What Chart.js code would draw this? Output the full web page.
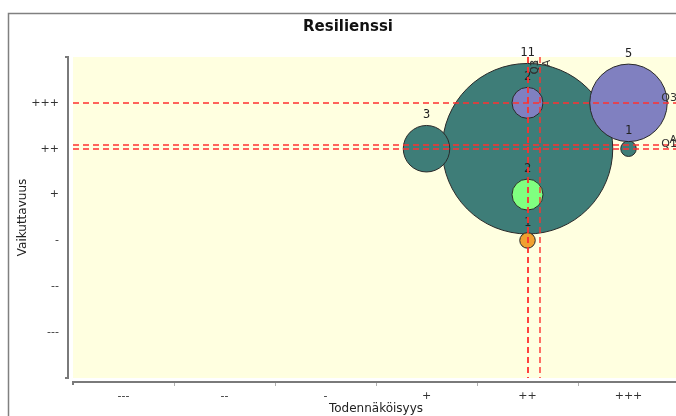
<!DOCTYPE html>
<html><head><meta charset="utf-8">
<script src="https://cdn.jsdelivr.net/npm/chart.js@4.4.1/dist/chart.umd.min.js"></script>
<style>
html,body{margin:0;padding:0;background:#fff;overflow:hidden;width:676px;height:416px;}
#wrap{position:absolute;left:0;top:0;width:696px;height:416px;}
</style></head><body>
<div id="wrap"><canvas id="c" width="696" height="416"></canvas></div>
<script>
// tasot molemmilla akseleilla
const levelLabels = ['---','--','-','+','++','+++'];

// kuplat: todennäköisyys (x), vaikuttavuus (y), riskien lukumäärä
const probX     = [5, 4, 6, 5, 6, 5, 5];
const impactY   = [5, 5, 5, 6, 6, 4, 3];
const counts    = [11, 3, 1, 2, 5, 2, 1];
const riskGroup = [0, 0, 0, 1, 1, 2, 3];

// kvartiili- ja keskiarvoviivat
const hLineNames  = ['Q3', 'A', 'Q1'];
const hLineValues = [6, 5.09, 5];
const vLineNames  = ['Q1', 'Q3', 'A'];
const vLineValues = [5, 5, 5.12];

const GROUP_COLORS = ['#3e7d78', '#8080c0', '#80ff80', '#f0a030'];
const R_PER_COUNT = 7.75;
const X_EDGE = 6.5;
const FONT = 'DejaVu Sans';

const points = probX.map((x,i)=>({x, y:impactY[i], r:counts[i]*R_PER_COUNT}));

const decor = {
  id:'decor',
  beforeDraw(chart){
    const {ctx, chartArea:a} = chart;
    ctx.save();
    ctx.fillStyle = '#fff';
    ctx.fillRect(0,0,chart.width,chart.height);
    ctx.strokeStyle = '#808080';
    ctx.lineWidth = 1.5;
    ctx.strokeRect(8.5, 13.5, 720, 430);
    ctx.fillStyle = '#ffffe0';
    ctx.fillRect(a.left, a.top, a.right-a.left, a.bottom-a.top);
    // akselit
    ctx.strokeStyle = '#7a7a7a';
    ctx.lineWidth = 2;
    ctx.beginPath();
    ctx.moveTo(65, a.top); ctx.lineTo(a.left-5, a.top); ctx.lineTo(a.left-5, a.bottom); ctx.lineTo(65, a.bottom);
    ctx.stroke();
    ctx.beginPath();
    ctx.moveTo(a.left, a.bottom+7); ctx.lineTo(a.left, a.bottom+4); ctx.lineTo(chart.width, a.bottom+4);
    ctx.stroke();
    const xs = chart.scales.x;
    ctx.strokeStyle = '#b0b0b0';
    ctx.lineWidth = 1;
    for(let i=1;i<=levelLabels.length;i++){
      const px = Math.round(xs.getPixelForValue(i+0.5))+0.5;
      ctx.beginPath(); ctx.moveTo(px, a.bottom+5); ctx.lineTo(px, a.bottom+8); ctx.stroke();
    }
    ctx.restore();
  },
  afterDatasetsDraw(chart){
    const {ctx, chartArea:a} = chart;
    const xs = chart.scales.x, ys = chart.scales.y;
    const meta = chart.getDatasetMeta(0);
    ctx.save();
    // lukumäärät kuplien yläpuolelle
    ctx.fillStyle = '#222';
    ctx.font = '12px "DejaVu Sans Mono"';
    ctx.textAlign = 'center';
    ctx.textBaseline = 'alphabetic';
    meta.data.forEach((el,i)=>{
      ctx.fillText(String(counts[i]), el.x, el.y - counts[i]*R_PER_COUNT - 7);
    });
    // katkoviivat
    ctx.beginPath();
    ctx.rect(a.left, a.top, a.right-a.left, a.bottom-a.top);
    ctx.clip();
    ctx.strokeStyle = '#ff3030';
    ctx.lineWidth = 1.4;
    ctx.setLineDash([6,4]);
    hLineValues.forEach(v=>{
      const py = Math.round(ys.getPixelForValue(v));
      ctx.beginPath(); ctx.moveTo(a.left, py); ctx.lineTo(a.right, py); ctx.stroke();
    });
    vLineValues.forEach(v=>{
      const px = Math.round(xs.getPixelForValue(v));
      ctx.beginPath(); ctx.moveTo(px, a.top); ctx.lineTo(px, a.bottom); ctx.stroke();
    });
    ctx.setLineDash([]);
    ctx.fillStyle = '#333';
    ctx.font = '11px ' + FONT;
    ctx.textAlign = 'right';
    ctx.textBaseline = 'alphabetic';
    const xr = xs.getPixelForValue(X_EDGE) - 2;
    hLineNames.forEach((n,i)=>{
      ctx.fillText(n, xr, ys.getPixelForValue(hLineValues[i]) - 2);
    });
    ctx.font = '10px ' + FONT;
    vLineNames.forEach((n,i)=>{
      ctx.save();
      ctx.translate(xs.getPixelForValue(vLineValues[i]) + 3, a.top + 3);
      ctx.rotate(-Math.PI/2);
      ctx.textBaseline = 'top';
      ctx.fillText(n, 0, 0);
      ctx.restore();
    });
    ctx.restore();
  }
};

new Chart(document.getElementById('c'), {
  type:'bubble',
  data:{datasets:[{
    data:points,
    backgroundColor:riskGroup.map(g=>GROUP_COLORS[g]),
    borderColor:'#2a2a2a',
    borderWidth:1,
    clip:false
  }]},
  options:{
    responsive:false, animation:false, devicePixelRatio:1,
    layout:{autoPadding:false, padding:{left:17,right:17,top:0,bottom:0}},
    plugins:{
      legend:{display:false}, tooltip:{enabled:false},
      title:{display:true, text:'Resilienssi', color:'#111',
        font:{family:FONT, size:15, weight:'bold', lineHeight:1.2}, padding:{top:18,bottom:21}}
    },
    scales:{
      x:{type:'linear', min:0.5, max:6.5,
        afterBuildTicks:s=>{ s.ticks = levelLabels.map((_,i)=>({value:i+1})); },
        afterFit:s=>{ s.height = 38; },
        grid:{display:false, drawTicks:false}, border:{display:false},
        ticks:{padding:12, color:'#333', font:{family:FONT, size:11}, maxRotation:0, autoSkip:false,
          callback:v=>levelLabels[v-1] || ''},
        title:{display:true, text:'Todennäköisyys', color:'#222', padding:0,
          font:{family:FONT, size:12, lineHeight:1.2}}
      },
      y:{type:'linear', min:0, max:7,
        afterBuildTicks:s=>{ s.ticks = levelLabels.map((_,i)=>({value:i+1})); },
        afterFit:s=>{ s.width = 56; },
        grid:{display:false, drawTicks:false}, border:{display:false},
        ticks:{padding:14, color:'#333', font:{family:FONT, size:11}, autoSkip:false,
          callback:v=>levelLabels[v-1] || ''},
        title:{display:true, text:'Vaikuttavuus', color:'#222', padding:0,
          font:{family:FONT, size:12, lineHeight:1.0}}
      }
    }
  },
  plugins:[decor]
});
</script>
</body></html>
